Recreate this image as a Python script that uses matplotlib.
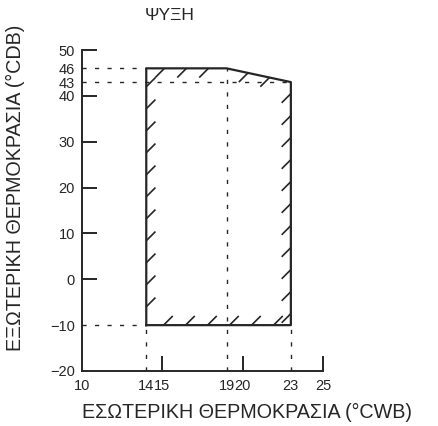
#!/usr/bin/env python3
"""Operating range chart - cooling"""

import numpy as np
import matplotlib
matplotlib.use('Agg')
import matplotlib.pyplot as plt

plt.rcParams['font.family'] = ['Liberation Sans', 'DejaVu Sans']

INK = '#262626'

# operating envelope (indoor WB, outdoor DB), counter-clockwise
env_wb = [14, 23, 23, 19, 14]
env_db = [-10, -10, 43, 46, 46]

# dashed guide lines to the axes
h_guides_db = [46, 43, -10]
h_guides_to = [14, 23, 14]
v_guides_wb = [14, 19, 23]
v_guides_to = [-10, 46, -10]

x_ticks = [10, 14, 15, 19, 20, 23, 25]
x_marked = [15, 20, 25]
y_ticks = [-20, -10, 0, 10, 20, 30, 40, 43, 46, 50]
y_marked = [0, 10, 20, 30, 40, 50]

title = 'ΨΥΞΗ'
x_label = 'ΕΣΩΤΕΡΙΚΗ ΘΕΡΜΟΚΡΑΣΙΑ (°CWB)'
y_label = 'ΕΞΩΤΕΡΙΚΗ ΘΕΡΜΟΚΡΑΣΙΑ (°CDB)'


def hatch_edges(ax, xs, ys, spacing=22.0, length=13.0):
  """short '/' strokes inside the polygon along each edge (pixel space)"""
  to_px = ax.transData
  to_data = ax.transData.inverted()
  pts = to_px.transform(np.column_stack([xs, ys]))
  n = len(pts)
  diag = np.array([1.0, 1.0]) / np.sqrt(2)
  for i in range(n):
    p0, p1 = pts[i], pts[(i + 1) % n]
    d = p1 - p0
    edge_len = np.hypot(*d)
    inward = np.array([-d[1], d[0]])
    sign = 1.0 if np.dot(inward, diag) > 0 else -1.0
    count = int(edge_len // spacing)
    if count < 1:
      continue
    offs = (edge_len - (count - 1) * spacing) / 2.0
    for k in range(count):
      t = (offs + k * spacing) / edge_len
      a = p0 + t * d
      b = a + sign * length * diag
      seg = to_data.transform(np.array([a, b]))
      ax.plot(seg[:, 0], seg[:, 1], color=INK, linewidth=1.2,
              solid_capstyle='butt', clip_on=False)


fig = plt.figure(figsize=(4.39, 4.26), dpi=100)
ax = fig.add_axes([82 / 439, 1 - 371 / 426, 241 / 439, 321 / 426])

ax.set_xlim(10, 25)
ax.set_ylim(-20, 50)

for side in ('top', 'right'):
  ax.spines[side].set_visible(False)
for side in ('left', 'bottom'):
  ax.spines[side].set_linewidth(1.4)
  ax.spines[side].set_color(INK)

ax.plot(env_wb + env_wb[:1], env_db + env_db[:1], color=INK, linewidth=1.6,
        clip_on=False)

dash = (0, (3, 6))
for yv, xe in zip(h_guides_db, h_guides_to):
  ax.plot([10, xe], [yv, yv], color=INK, linewidth=1.0, linestyle=dash)
for xv, ye in zip(v_guides_wb, v_guides_to):
  ax.plot([xv, xv], [-20, ye], color=INK, linewidth=1.0, linestyle=dash)

hatch_edges(ax, env_wb, env_db)

ax.set_xticks(x_ticks)
ax.set_yticks(y_ticks)
ax.tick_params(axis='both', direction='in', length=10.5, width=1.4,
               color=INK, labelcolor=INK, labelsize=10.5)
ax.tick_params(axis='x', pad=6)
ax.tick_params(axis='y', pad=5)
for val, tick in zip(x_ticks, ax.xaxis.get_major_ticks()):
  tick.tick1line.set_visible(val in x_marked)
for val, tick in zip(y_ticks, ax.yaxis.get_major_ticks()):
  tick.tick1line.set_visible(val in y_marked)

fig.text(170 / 439, 1 - 15 / 426, title, ha='center', va='center',
         fontsize=12.5, color=INK)
fig.text(247 / 439, 1 - 412 / 426, x_label, ha='center', va='center',
         fontsize=14.2, color=INK)
fig.text(15 / 439, 1 - 188 / 426, y_label, ha='center', va='center',
         rotation=90, fontsize=14.2, color=INK)

fig.savefig('out.png', dpi=100)
